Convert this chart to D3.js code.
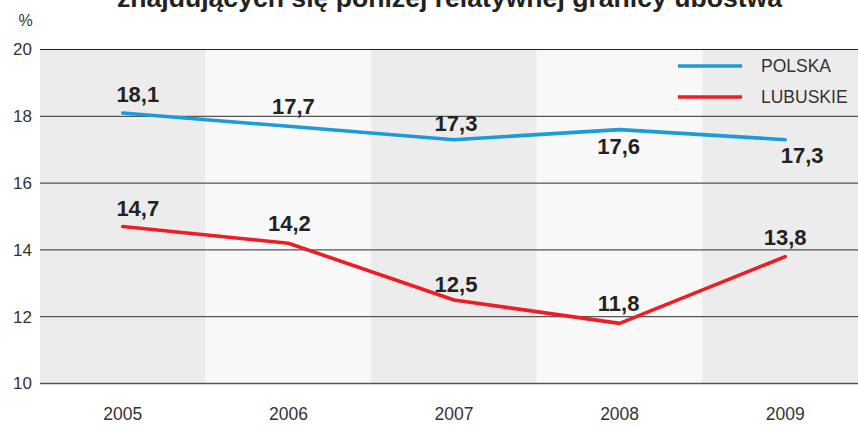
<!DOCTYPE html>
<html><head><meta charset="utf-8">
<script src="https://cdn.jsdelivr.net/npm/d3@7"></script>
<style>body{margin:0;background:#fff}svg{display:block;font-family:"Liberation Sans",Arial,sans-serif}</style>
</head><body>
<svg id="c" width="858" height="426"></svg>
<script>
const years = ["2005","2006","2007","2008","2009"];
const polska = [18.1, 17.7, 17.3, 17.6, 17.3];
const lubuskie = [14.7, 14.2, 12.5, 11.8, 13.8];
const yTicks = [10, 12, 14, 16, 18, 20];
const seriesNames = ["POLSKA", "LUBUSKIE"];
const seriesColors = ["#1b9bd7", "#ee1d25"];
const title = "znajdujących się poniżej relatywnej granicy ubóstwa";
// label offsets (dx, dy) relative to each point
const polskaLabelOffsets = [[15,-18],[5,-20],[2,-16],[-1,17],[17,16]];
const lubuskieLabelOffsets = [[15,-18],[1,-20],[2,-16],[-1,-20],[0,-19]];

const FONT = "Liberation Sans, Arial, sans-serif";
const svg = d3.select("#c");
const x = d3.scaleBand().domain(years).range([40, 868]).padding(0);
const y = d3.scaleLinear().domain([10, 20]).range([383.5, 49.5]);

// bands
svg.selectAll("rect.band").data(years).join("rect")
  .attr("x", d => x(d)).attr("y", y(20)).attr("width", x.bandwidth()).attr("height", y(10) - y(20))
  .attr("fill", (d, i) => i % 2 === 0 ? "#ececec" : "#f8f8f8");

// grid
svg.selectAll("line.grid").data(yTicks).join("line")
  .attr("x1", 40).attr("x2", 858).attr("y1", d => y(d)).attr("y2", d => y(d))
  .attr("stroke", d => d === 20 ? "#222" : "#555").attr("stroke-width", d => d === 10 ? 1.5 : 1.2);

// y labels
const yAxis = d3.axisLeft(y).tickValues(yTicks).tickSize(0).tickPadding(8);
const ga = svg.append("g").attr("transform", "translate(40,0)").call(yAxis);
ga.select(".domain").remove();
ga.selectAll("text").attr("font-size", 17).attr("fill", "#333").attr("font-family", FONT);

// x labels
const xAxis = d3.axisBottom(x).tickSize(0).tickPadding(0);
const gx = svg.append("g").attr("transform", "translate(0,408)").call(xAxis);
gx.select(".domain").remove();
gx.selectAll("text").attr("font-size", 17.5).attr("fill", "#333").attr("font-family", FONT);

svg.append("text").attr("x", 25.5).attr("y", 26).attr("text-anchor", "middle")
  .attr("font-size", 16).attr("fill", "#333").text("%");

svg.append("text").attr("x", 449.5).attr("y", 7).attr("text-anchor", "middle")
  .attr("font-size", 26.6).attr("font-weight", "bold").attr("fill", "#222").text(title);

const line = d3.line().x((d, i) => x(years[i]) + x.bandwidth() / 2).y(d => y(d));
const series = [polska, lubuskie];
const offsets = [polskaLabelOffsets, lubuskieLabelOffsets];
series.forEach((s, k) => {
  svg.append("path").datum(s).attr("d", line).attr("fill", "none")
    .attr("stroke", seriesColors[k]).attr("stroke-width", 3.6).attr("stroke-linecap", "round").attr("stroke-linejoin", "round");
  svg.selectAll(null).data(s).join("text")
    .attr("x", (d, i) => x(years[i]) + x.bandwidth() / 2 + offsets[k][i][0])
    .attr("y", (d, i) => y(d) + offsets[k][i][1])
    .attr("text-anchor", "middle").attr("dominant-baseline", "central")
    .attr("font-size", 22).attr("font-weight", "bold").attr("fill", "#222")
    .text(d => d3.format(".1f")(d).replace(".", ","));
});

// legend
seriesNames.forEach((n, k) => {
  const ly = 66 + k * 31;
  svg.append("line").attr("x1", 678).attr("x2", 742).attr("y1", ly).attr("y2", ly)
    .attr("stroke", seriesColors[k]).attr("stroke-width", 3.5);
  svg.append("text").attr("x", 761).attr("y", ly).attr("dominant-baseline", "central")
    .attr("font-size", 17.5).attr("fill", "#333").text(n);
});
</script>
</body></html>
